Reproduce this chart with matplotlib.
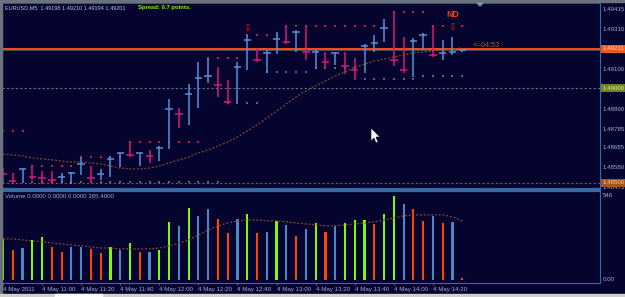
import numpy as np
import matplotlib
matplotlib.use("Agg")
import matplotlib.pyplot as plt
from matplotlib.patches import Rectangle, Polygon
from matplotlib.transforms import blended_transform_factory

#---------------------------------------------------------------------------------------------------------#
# Values (bar 0 = 10:40, bar 47 = 14:35)
#---------------------------------------------------------------------------------------------------------#

xlabels = ["4 May 2011", "4 May 11:00", "4 May 11:20", "4 May 11:40", "4 May 12:00", "4 May 12:20",
           "4 May 12:40", "4 May 13:00", "4 May 13:20", "4 May 13:40", "4 May 14:00", "4 May 14:20"]
xlabel_bars = [0, 4, 8, 12, 16, 20, 24, 28, 32, 36, 40, 44]

highs = [1.48579, 1.48553, 1.48579, 1.48590, 1.48563, 1.48563, 1.48553, 1.48558, 1.48637, 1.48590,
         1.48574, 1.48643, 1.48659, 1.48717, 1.48659, 1.48674, 1.48696, 1.48944, 1.48897, 1.49024,
         1.49140, 1.49161, 1.49113, 1.49045, 1.49140, 1.49283, 1.49214, 1.49203, 1.49299, 1.49330,
         1.49309, 1.49330, 1.49203, 1.49193, 1.49193, 1.49193, 1.49161, 1.49235, 1.49283, 1.49367,
         1.49404, 1.49272, 1.49267, 1.49293, 1.49330, 1.49256, 1.49272, 1.49210]
lows = [1.48500, 1.48494, 1.48500, 1.48516, 1.48494, 1.48500, 1.48500, 1.48494, 1.48542, 1.48500,
        1.48516, 1.48531, 1.48584, 1.48637, 1.48590, 1.48606, 1.48616, 1.48680, 1.48791, 1.48807,
        1.48897, 1.49029, 1.48955, 1.48918, 1.48923, 1.49098, 1.49140, 1.49082, 1.49182, 1.49235,
        1.49193, 1.49151, 1.49103, 1.49113, 1.49124, 1.49076, 1.49045, 1.49082, 1.49193, 1.49246,
        1.49119, 1.49082, 1.49061, 1.49203, 1.49166, 1.49151, 1.49177, 1.49194]
closes = [1.48547, 1.48510, 1.48574, 1.48531, 1.48526, 1.48516, 1.48531, 1.48553, 1.48600, 1.48526,
          1.48547, 1.48627, 1.48659, 1.48648, 1.48659, 1.48643, 1.48685, 1.48891, 1.48865, 1.48971,
          1.49055, 1.49066, 1.49018, 1.48928, 1.49113, 1.49256, 1.49151, 1.49188, 1.49262, 1.49246,
          1.49299, 1.49193, 1.49193, 1.49140, 1.49188, 1.49119, 1.49098, 1.49225, 1.49240, 1.49320,
          1.49151, 1.49098, 1.49251, 1.49283, 1.49177, 1.49188, 1.49193, 1.49201]
bar_up = [0, 0, 1, 0, 0, 0, 1, 1, 1, 0, 1, 1, 1, 0, 1, 0, 1, 1, 0, 1, 1, 1, 0, 0,
          1, 1, 0, 1, 1, 0, 1, 0, 1, 0, 1, 0, 0, 1, 1, 1, 0, 0, 1, 1, 0, 1, 1, 1]

upper_dots = [1.48775, 1.48775, 1.48775, 1.48590, 1.48590, 1.48590, 1.48590, 1.48590, 1.48637, 1.48637,
              1.48637, 1.48637, 1.48637, 1.48717, 1.48717, 1.48717, 1.48717, 1.48717, 1.48717, 1.48717,
              1.48717, 1.49161, 1.49161, 1.49161, 1.49161, 1.49283, 1.49283, 1.49283, 1.49283, 1.49330,
              1.49330, 1.49330, 1.49330, 1.49330, 1.49330, 1.49330, 1.49330, 1.49330, 1.49330, 1.49330,
              1.49404, 1.49404, 1.49404, 1.49404, 1.49330, 1.49330, np.nan, 1.49330]
lower_dots = [np.nan, np.nan, np.nan, 1.48505, 1.48505, 1.48505, 1.48505, 1.48505, 1.48505, 1.48505,
              1.48505, 1.48505, 1.48505, 1.48505, 1.48505, 1.48505, 1.48505, 1.48505, 1.48505, 1.48505,
              1.48505, 1.48505, 1.48505, 1.48923, 1.48923, 1.48923, 1.48923, 1.49087, 1.49087, 1.49087,
              1.49087, 1.49087, 1.49108, 1.49108, 1.49108, 1.49108, 1.49108, 1.49050, 1.49050, 1.49050,
              1.49050, 1.49050, 1.49050, 1.49066, 1.49066, 1.49066, 1.49066, 1.49066]
price_ma = [1.48653, 1.48648, 1.48643, 1.48632, 1.48627, 1.48622, 1.48616, 1.48611, 1.48611, 1.48606,
            1.48600, 1.48590, 1.48579, 1.48574, 1.48574, 1.48579, 1.48590, 1.48606, 1.48622, 1.48637,
            1.48659, 1.48674, 1.48696, 1.48717, 1.48743, 1.48775, 1.48807, 1.48844, 1.48881, 1.48918,
            1.48955, 1.48987, 1.49013, 1.49039, 1.49066, 1.49087, 1.49113, 1.49129, 1.49145, 1.49156,
            1.49166, 1.49177, 1.49188, 1.49193, 1.49198, 1.49203, 1.49209, 1.49214]

volumes = [273, 195, 208, 260, 280, 215, 182, 215, 215, 202, 176, 215, 195, 241, 182, 182,
           195, 377, 351, 468, 416, 462, 397, 306, 397, 429, 306, 312, 384, 358, 286, 332,
           371, 312, 351, 371, 390, 390, 364, 429, 546, 494, 462, 384, 416, 371, 377, 13]
# g = rising, r = falling, b = neutral colour of the volume histogram
vol_colors = ['g', 'r', 'b', 'g', 'g', 'r', 'r', 'b', 'b', 'r', 'r', 'g', 'b', 'g', 'r', 'b',
              'g', 'g', 'b', 'g', 'b', 'b', 'r', 'r', 'b', 'g', 'r', 'b', 'g', 'b', 'r', 'b',
              'g', 'r', 'b', 'g', 'g', 'g', 'r', 'g', 'g', 'b', 'r', 'r', 'b', 'r', 'b', 'r']
vol_ma = [267, 267, 260, 254, 247, 241, 234, 228, 221, 215, 208, 208, 202, 202, 202, 202,
          208, 221, 241, 260, 293, 325, 351, 371, 384, 390, 390, 384, 384, 377, 371, 364,
          358, 351, 351, 358, 364, 371, 377, 390, 403, 416, 423, 423, 423, 423, 410, 384]

right_prices = [1.49415, 1.49310, 1.49100, 1.48890, 1.48785, 1.48685, 1.48580, 1.48475]
marked_prices = [1.49211, 1.49000, 1.48500]

#---------------------------------------------------------------------------------------------------------#
# Styling
#---------------------------------------------------------------------------------------------------------#

W, H = 625, 297
BG = '#04042f'
TXT = '#9fb0d0'
UP = '#5b8fd8'
DN = '#dc1878'
EDGE = '#3a6aa6'
VCOL = {'g': '#7cfc00', 'r': '#ff4500', 'b': '#4a88c8'}
FS = 4.4
plt.rcParams['font.family'] = ['Liberation Sans', 'DejaVu Sans']


def box(l, t, r, b):
    return [l / W, 1 - b / H, (r - l) / W, (b - t) / H]


def fpx(px, py):
    return px / W, 1 - py / H


fig = plt.figure(figsize=(W / 100, H / 100), dpi=100)
fig.patch.set_facecolor(BG)

ax = fig.add_axes(box(2, 3, 600, 189))
axv = fig.add_axes(box(2, 191, 600, 283))

x = np.arange(len(highs))
xlim = (-0.1, 61.1)

#---------------------------------------------------------------------------------------------------------#
# Price panel
#---------------------------------------------------------------------------------------------------------#
ax.set_facecolor(BG)
ax.set_xlim(*xlim)
ax.set_ylim(1.48468, 1.49452)

ax.axhline(1.49000, color='#68707e', lw=0.8, ls=(0, (2, 2)))
ax.axhline(1.48500, color='#a04a22', lw=0.8, ls=(0, (2, 2)))
ax.axhline(1.49201, color='#4a5262', lw=1.3)
ax.axhline(1.49211, color='#ff4a12', lw=1.4)

ax.plot(x, price_ma, color='#8b4a2b', lw=0.9, ls=(0, (1.5, 1.5)))
ax.plot(x, upper_dots, ls='none', marker='s', ms=1.6, mew=0, color='#c81e3c')
ax.plot(x, lower_dots, ls='none', marker='s', ms=1.6, mew=0, color='#58608e')

cols = [UP if u else DN for u in bar_up]
ax.vlines(x, lows, highs, colors=cols, lw=1.1)
ax.hlines(closes, x - 0.38, x + 0.38, colors=cols, lw=1.1)

ax.text(25, 1.49325, '\u21e9', family='DejaVu Sans', fontsize=7, color='#b8141e',
        ha='center', va='center', fontweight='bold')
ax.text(46, 1.49330, '\u21e9', family='DejaVu Sans', fontsize=7, color='#b8141e',
        ha='center', va='center', fontweight='bold')
ax.text(46, 1.49391, 'ND', fontsize=6.3, color='#ff3c14', ha='center', va='center', fontweight='bold')
ax.text(48.1, 1.49227, '<--04:53', fontsize=5.2, color='#a0602a', ha='left', va='center')

ax.set_xticks([])
ax.set_yticks([])
for s in ['left', 'top']:
    ax.spines[s].set_color('#3c4a66')
ax.spines['right'].set_color(EDGE)
ax.spines['bottom'].set_color(EDGE)
ax.spines['bottom'].set_linewidth(1.6)

# right price scale
tr = blended_transform_factory(fig.transFigure, ax.transData)
for p in right_prices:
    fig.text(603 / W, p, f"{p:.5f}", transform=tr, fontsize=FS, color=TXT, va='center', ha='left')
box_cols = {1.49211: ('#f0581a', '#ffe0c8'), 1.49000: ('#6f8222', '#dfe8b0'), 1.48500: ('#a65420', '#f4c8a8')}
for p in marked_prices:
    bg, fg = box_cols[p]
    fig.text(603 / W, p, f"{p:.5f}", transform=tr, fontsize=FS, color=fg, va='center', ha='left',
             bbox=dict(boxstyle='square,pad=0.25', fc=bg, ec='none'))

fig.text(5 / W, 1 - 7.5 / H, "EURUSD,M5  1.49198 1.49210 1.49194 1.49201", fontsize=4.0,
         color='#b8c4dc', va='center', ha='left')
fig.text(138 / W, 1 - 7.5 / H, "Spread: 0.7 points.", fontsize=4.2, color='#7cfc00',
         va='center', ha='left', fontweight='bold')

#---------------------------------------------------------------------------------------------------------#
# Volume panel
#---------------------------------------------------------------------------------------------------------#
axv.set_facecolor(BG)
axv.set_xlim(*xlim)
axv.set_ylim(-19.5, 578)
axv.bar(x, volumes, width=0.22, color=[VCOL[c] for c in vol_colors])
axv.plot(x, vol_ma, color='#8b4a2b', lw=0.9, ls=(0, (1.5, 1.5)))

axv.set_yticks([])
axv.set_xticks(xlabel_bars)
axv.set_xticklabels(xlabels, ha='left', fontsize=FS, color=TXT)
axv.tick_params(axis='x', length=1.6, width=0.8, color=EDGE, pad=1)
axv.spines['left'].set_color('#3c4a66')
for s in ['right', 'bottom', 'top']:
    axv.spines[s].set_color(EDGE)
axv.spines['top'].set_linewidth(1.6)

trv = blended_transform_factory(fig.transFigure, axv.transData)
fig.text(603 / W, 546, "546", transform=trv, fontsize=FS, color=TXT, va='center', ha='left')
fig.text(603 / W, 0, "0.00", transform=trv, fontsize=FS, color=TXT, va='center', ha='left')
fig.text(5 / W, 1 - 197 / H, "Volume 0.0000 0.0000 0.0000 365.4000", fontsize=FS,
         color='#a0aac0', va='center', ha='left')

#---------------------------------------------------------------------------------------------------------#
# Window chrome: borders, shift marker, mouse pointer
#---------------------------------------------------------------------------------------------------------#
fig.add_artist(Rectangle(fpx(0, 297), 2 / W, 1, transform=fig.transFigure, color='#6a7282', zorder=5))
fig.add_artist(Rectangle(fpx(0, 2), 1, 2 / H, transform=fig.transFigure, color='#6a7282', zorder=5))
fig.add_artist(Rectangle(fpx(0, 297), 1, 3 / H, transform=fig.transFigure, color='#d4d0c8', zorder=5))
fig.add_artist(Rectangle(fpx(55, 297), 47 / W, 3 / H, transform=fig.transFigure, color='#ffffff', zorder=6))
fig.add_artist(Polygon([fpx(477, 3), fpx(483, 3), fpx(480, 6)], closed=True,
                       transform=fig.transFigure, color='#8090a4', zorder=5))
cursor = [(371, 128), (371, 141), (374, 138), (376, 143), (378, 142), (376, 137), (380, 137)]
fig.add_artist(Polygon([fpx(a, b) for a, b in cursor], closed=True, transform=fig.transFigure,
                       fc='#ffffff', ec='#000000', lw=0.4, zorder=6))

plt.savefig('out.png', dpi=100, facecolor=BG)
plt.close('all')
